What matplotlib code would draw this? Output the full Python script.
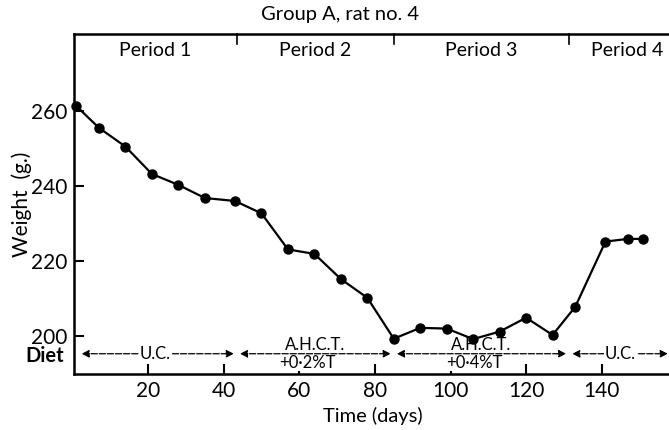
import matplotlib
matplotlib.use("Agg")
import matplotlib.pyplot as plt
import matplotlib.transforms as mtransforms

plt.rcParams['font.family'] = ['Lato', 'DejaVu Sans']

# body weight readings
days = [1, 7, 14, 21, 28, 35, 43, 50, 57, 64, 71, 78, 85, 92, 99, 106,
        113, 120, 127, 133, 141, 147, 151]
weight = [261.3, 255.5, 250.5, 243.2, 240.3, 236.8, 236.0, 232.7, 223.1,
          221.9, 215.2, 210.2, 199.3, 202.2, 202.0, 199.2, 201.2, 204.9,
          200.3, 207.8, 225.2, 225.9, 225.9]

# period boundaries (days) and labels
period_edges = [0.4, 43.5, 85, 131.4, 157.8]
period_names = ["Period 1", "Period 2", "Period 3", "Period 4"]
diet_top = ["U.C.", "A.H.C.T.", "A.H.C.T.", "U.C."]
diet_bottom = ["", "+0·2%T", "+0·4%T", ""]

fig = plt.figure(figsize=(6.69, 4.30), dpi=100)
ax = fig.add_axes([74 / 669, 1 - 374 / 430, 595 / 669, 340 / 430])

ax.plot(days, weight, color='black', lw=1.6, marker='o', ms=6.5, zorder=6,
        clip_on=False)

ax.set_xlim(period_edges[0], period_edges[-1])
ax.set_ylim(189.9, 280.5)
ax.set_xticks([20, 40, 60, 80, 100, 120, 140])
ax.set_yticks([200, 220, 240, 260])
ax.tick_params(direction='in', length=7.5, width=1.5, labelsize=15, pad=5)
for side in ['left', 'bottom', 'top']:
    ax.spines[side].set_linewidth(1.8)
ax.spines['right'].set_visible(False)

ax.set_xlabel("Time (days)", fontsize=14.5)
ax.xaxis.set_label_coords(0.503, -0.097)
ax.set_ylabel("Weight  (g.)", fontsize=15)
ax.yaxis.set_label_coords(-0.07, 0.5)

trans = mtransforms.blended_transform_factory(ax.transData, ax.transAxes)

# period dividers hanging from the top spine
for x in period_edges[1:-1]:
    ax.plot([x, x], [1, 0.97], color='black', lw=1.2, transform=trans,
            clip_on=False)
for i, name in enumerate(period_names):
    mid = (period_edges[i] + period_edges[i + 1]) / 2
    if i == 3:
        mid += 2
    ax.text(mid, 0.952, name, transform=trans, ha='center', va='center',
            fontsize=14)

ax.text(0.447, 1.058, "Group A, rat no. 4", transform=ax.transAxes,
        ha='center', va='center', fontsize=14.5)

# diet row with double-headed arrows
diet_y = 195.3
for i in range(4):
    x0 = period_edges[i] + (2 if i == 0 else 0.8)
    x1 = period_edges[i + 1] - (0.8 if i < 3 else 0.3)
    ax.annotate('', xy=(x1, diet_y), xytext=(x0, diet_y), zorder=2,
                arrowprops=dict(arrowstyle='<|-|>', color='black', lw=0.9,
                                linestyle=(0, (5, 1.5)), mutation_scale=11,
                                shrinkA=0, shrinkB=0))
    mid = (period_edges[i] + period_edges[i + 1]) / 2
    if i == 3:
        mid = 145
    if diet_bottom[i]:
        ax.text(mid, diet_y + 0.2, diet_top[i], ha='center', va='bottom',
                fontsize=12, zorder=3,
                bbox=dict(facecolor='white', edgecolor='none', pad=0.1))
        ax.text(mid - 2, diet_y - 0.3, diet_bottom[i], ha='center', va='top',
                fontsize=12, zorder=3,
                bbox=dict(facecolor='white', edgecolor='none', pad=0.1))
    else:
        ax.text(mid, diet_y, diet_top[i], ha='center', va='center',
                fontsize=12, zorder=3,
                bbox=dict(facecolor='white', edgecolor='none', pad=0.8))

fig.text(45 / 669, 1 - 356 / 430, "Diet", ha='center', va='center',
         fontsize=14.5, fontweight='bold')

fig.savefig('out.png', dpi=100)
